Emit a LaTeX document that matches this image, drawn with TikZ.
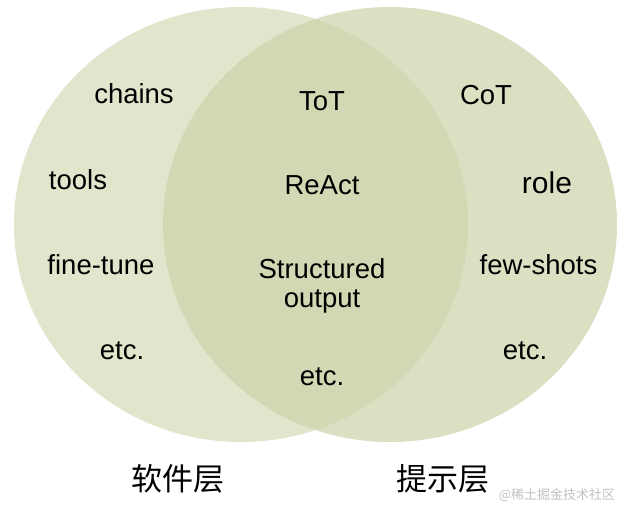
\documentclass[tikz,border=0pt]{standalone}
\usepackage{fontspec}
\setmainfont{Liberation Sans}
\newfontfamily\cjk{Noto Sans CJK SC}
\definecolor{leftfill}{HTML}{E1E5CC}
\definecolor{rightfill}{HTML}{DCE0C3}
\definecolor{lensfill}{HTML}{D2D8B4}
\definecolor{wmgray}{HTML}{C2C2C2}
\begin{document}
\begin{tikzpicture}[x=1pt,y=-1pt,
  lbl/.style={inner sep=0pt,anchor=base,font=\fontsize{27.5}{30}\selectfont},
  biglbl/.style={inner sep=0pt,anchor=base,font=\fontsize{30}{33}\selectfont},
  cjklbl/.style={inner sep=0pt,anchor=center,font=\cjk\fontsize{31}{34}\selectfont},
  wm/.style={inner sep=0pt,anchor=center,text=wmgray,font=\cjk\fontsize{13}{15}\selectfont}]
\useasboundingbox (0,0) rectangle (631,517);
\fill[white] (0,0) rectangle (631,517);
% ellipses
\fill[leftfill] (241,224.5) ellipse [x radius=227, y radius=217.5];
\fill[rightfill] (390,224.5) ellipse [x radius=227, y radius=217.5];
\begin{scope}
  \clip (241,224.5) ellipse [x radius=227, y radius=217.5];
  \fill[lensfill] (390,224.5) ellipse [x radius=227, y radius=217.5];
\end{scope}
% left texts
\node[lbl] (chains) at (134,103) {chains};
\node[lbl] (tools) at (78,189) {tools};
\node[lbl] (finetune) at (101,274) {fine-tune};
\node[lbl] (etcl) at (122,359) {etc.};
% middle texts
\node[lbl] (tot) at (322,110) {ToT};
\node[lbl] (react) at (322,194) {ReAct};
\node[lbl] (struct) at (322,278) {Structured};
\node[lbl] (output) at (322,307) {output};
\node[lbl] (etcm) at (322,385) {etc.};
% right texts
\node[lbl] (cot) at (486,104) {CoT};
\node[biglbl] (role) at (547,193) {role};
\node[lbl] (fewshots) at (538.5,274) {few-shots};
\node[lbl] (etcr) at (525,359) {etc.};
% bottom labels
\node[cjklbl] (soft) at (178,479) {软件层};
\node[cjklbl] (prompt) at (443,479) {提示层};
\node[wm] (watermark) at (557,495) {@稀土掘金技术社区};
\end{tikzpicture}
\end{document}
